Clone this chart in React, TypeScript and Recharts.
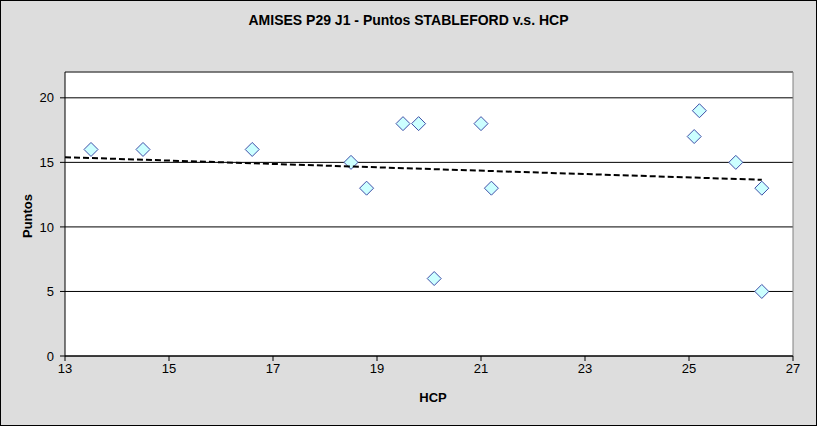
import React from "react";
import {
  ScatterChart,
  Scatter,
  XAxis,
  YAxis,
  CartesianGrid,
  ReferenceLine,
} from "recharts";

// HCP of each player and the Stableford points scored
const hcp = [13.5, 14.5, 16.6, 18.5, 18.8, 19.5, 19.8, 20.1, 21, 21.2, 25.1, 25.2, 25.9, 26.4, 26.4];
const puntos = [16, 16, 16, 15, 13, 18, 18, 6, 18, 13, 17, 19, 15, 13, 5];

// linear trendline end points
const trendX = [13, 26.4];
const trendY = [15.4, 13.65];

const xTicks = [13, 15, 17, 19, 21, 23, 25, 27];
const yTicks = [0, 5, 10, 15, 20];

const points = hcp.map((x, i) => ({ x, y: puntos[i] }));
const trend = trendX.map((x, i) => ({ x, y: trendY[i] }));

const FONT = "'Liberation Sans', Arial, sans-serif";

const Diamond = (props: any) => {
  const { cx, cy } = props;
  if (cx == null || cy == null) return null;
  const r = 7;
  return (
    <polygon
      points={`${cx},${cy - r} ${cx + r},${cy} ${cx},${cy + r} ${cx - r},${cy}`}
      fill="#ccffff"
      stroke="#3f4fa8"
      strokeWidth={1}
    />
  );
};

const NoDot = () => <g />;

export default function App() {
  return (
    <div
      style={{
        position: "absolute",
        left: 0,
        top: 0,
        width: 817,
        height: 426,
        background: "#dddddd",
        fontFamily: FONT,
      }}
    >
      <ScatterChart
        width={817}
        height={426}
        margin={{ top: 72, right: 24, bottom: 40, left: 15 }}
      >
        <CartesianGrid
          vertical={false}
          stroke="#000"
          fill="#ffffff"
          fillOpacity={1}
        />
        <XAxis
          type="number"
          dataKey="x"
          domain={[13, 27]}
          ticks={xTicks}
          height={30}
          tickSize={5}
          tickMargin={3}
          stroke="#000"
          tick={{ fill: "#000", fontSize: 13, fontFamily: FONT }}
          allowDataOverflow
        />
        <YAxis
          type="number"
          dataKey="y"
          domain={[0, 22]}
          ticks={yTicks}
          width={50}
          tickSize={5}
          tickMargin={6}
          stroke="#000"
          tick={{ fill: "#000", fontSize: 13, fontFamily: FONT }}
          allowDataOverflow
        />
        <ReferenceLine y={22} stroke="#808080" />
        <ReferenceLine x={27} stroke="#808080" />
        <Scatter data={points} shape={<Diamond />} isAnimationActive={false} />
        <Scatter
          data={trend}
          line={{ stroke: "#000", strokeWidth: 2, strokeDasharray: "6 3" }}
          shape={<NoDot />}
          isAnimationActive={false}
        />
      </ScatterChart>
      <div
        style={{
          position: "absolute",
          left: 0,
          top: 12,
          width: 817,
          textAlign: "center",
          fontWeight: "bold",
          fontSize: 14,
        }}
      >
        AMISES P29 J1 - Puntos STABLEFORD v.s. HCP
      </div>
      <div
        style={{
          position: "absolute",
          left: 27,
          top: 216,
          transform: "translate(-50%, -50%) rotate(-90deg)",
          fontWeight: "bold",
          fontSize: 13,
          whiteSpace: "nowrap",
        }}
      >
        Puntos
      </div>
      <div
        style={{
          position: "absolute",
          left: 433,
          top: 397,
          transform: "translate(-50%, -50%)",
          fontWeight: "bold",
          fontSize: 13,
        }}
      >
        HCP
      </div>
      <div
        style={{
          position: "absolute",
          inset: 0,
          border: "1px solid #000",
          pointerEvents: "none",
        }}
      />
    </div>
  );
}
